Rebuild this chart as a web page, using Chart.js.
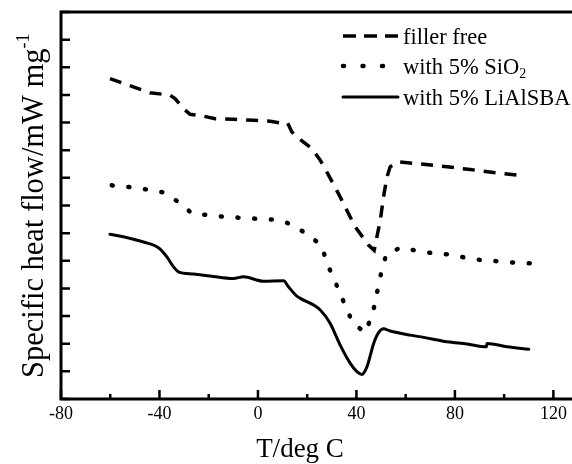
<!DOCTYPE html>
<html><head><meta charset="utf-8">
<style>
html,body{margin:0;padding:0;background:#fff;overflow:hidden;width:572px;height:464px}
canvas{display:block}
</style>
<script src="https://cdn.jsdelivr.net/npm/chart.js@4.4.1/dist/chart.umd.min.js"></script>
</head><body>
<canvas id="c" width="578" height="464" style="width:578px;height:464px"></canvas>
<script>
// ---- data ----
const fillerX = [-60.1,-52.6,-43.8,-35.7,-33.7,-30.3,-27.6,-23.5,-17.4,-10.0,-1.8,5.0,9.0,12.0,13.8,15.8,21.9,25.3,28.0,32.7,36.1,39.5,44.9,47.2,49.7,51.0,52.4,53.7,57.1,67.3,76.8,86.3,95.7,105.2];
const fillerY = [11.59,11.35,11.08,10.99,10.87,10.51,10.30,10.26,10.14,10.12,10.08,10.05,9.99,9.99,9.66,9.48,9.06,8.64,8.21,7.43,6.83,6.23,5.57,5.38,6.47,7.31,8.03,8.40,8.58,8.49,8.40,8.30,8.19,8.10];

const sio2X = [-59.4,-52.6,-45.9,-38.8,-32.3,-26.5,-23.2,-16.3,-9.6,-2.8,4.0,10.1,13.4,19.2,25.7,28.4,31.8,35.2,38.6,43.6,46.7,48.3,50.0,52.1,58.1,64.6,71.3,77.2,83.9,91.0,97.8,104.8,112.0,115.4];
const sio2Y = [7.73,7.67,7.59,7.48,7.13,6.69,6.68,6.61,6.57,6.53,6.51,6.44,6.31,6.01,5.57,4.84,4.15,3.43,2.74,2.40,3.12,3.82,4.54,5.24,5.48,5.36,5.27,5.23,5.12,5.02,4.98,4.93,4.90,4.90];

const lialX = [-60.1,-52.0,-46.5,-40.4,-37.0,-34.3,-32.3,-26.2,-19.4,-10.0,-5.9,2.2,10.4,12.4,15.8,17.2,25.3,29.3,33.4,37.5,40.2,42.2,44.3,47.0,49.0,51.0,53.7,61.9,67.3,76.8,84.9,92.8,93.0,101.2,110.0];
const lialY = [5.96,5.81,5.68,5.47,5.14,4.78,4.60,4.52,4.45,4.36,4.42,4.26,4.28,4.06,3.72,3.64,3.22,2.74,1.95,1.29,0.99,0.89,1.17,2.01,2.40,2.54,2.46,2.31,2.23,2.07,1.99,1.89,2.01,1.89,1.80];

const seriesLabels = ['filler free', 'with 5% SiO\u2082', 'with 5% LiAlSBA'];
const xTickValues = [-80,-60,-40,-20,0,20,40,60,80,100,120];
const xMajorTicks = [-80,-40,0,40,80,120];
const xTickLabels = ['-80','-40','0','40','80','120'];
const yTickValues = [0,1,2,3,4,5,6,7,8,9,10,11,12,13,14];
const xAxisTitle = 'T/deg C';
const yAxisTitle = 'Specific heat flow/mW mg\u207B\u00B9';

const pts = (xs, ys) => xs.map((x, i) => ({x, y: ys[i]}));
const FONT = '"Liberation Serif", "Times New Roman", serif';

// rich text: subscript / superscript characters rendered with a smaller font
const SUB = {'\u2082':'2'};
const SUP = {'\u207B':'-','\u00B9':'1'};
function drawRich(ctx, text, x, y, size) {
  let cx = x;
  for (const ch of text) {
    if (SUB[ch]) {
      ctx.font = (size*0.62) + 'px ' + FONT;
      ctx.fillText(SUB[ch], cx, y + size*0.22);
      cx += ctx.measureText(SUB[ch]).width;
    } else if (SUP[ch]) {
      ctx.font = (size*0.6) + 'px ' + FONT;
      ctx.fillText(SUP[ch], cx, y - size*0.45);
      cx += ctx.measureText(SUP[ch]).width;
    } else {
      ctx.font = size + 'px ' + FONT;
      ctx.fillText(ch, cx, y);
      cx += ctx.measureText(ch).width;
    }
  }
  return cx - x;
}

const legendDash = [[13, 8], [1, 18.5], []];

const decor = {
  id: 'decor',
  afterDraw(chart) {
    const {ctx, chartArea: a, scales: {x, y}} = chart;
    ctx.save();
    ctx.strokeStyle = '#000';
    ctx.fillStyle = '#000';
    // frame
    ctx.lineWidth = 3;
    ctx.setLineDash([]);
    ctx.beginPath();
    ctx.moveTo(a.right + 2, a.top);
    ctx.lineTo(a.left, a.top);
    ctx.lineTo(a.left, a.bottom);
    ctx.lineTo(a.right + 2, a.bottom);
    ctx.stroke();
    // inward ticks
    ctx.lineWidth = 2.5;
    ctx.beginPath();
    y.ticks.forEach(t => {
      const py = y.getPixelForValue(t.value);
      ctx.moveTo(a.left, py); ctx.lineTo(a.left + 9, py);
    });
    x.ticks.forEach(t => {
      const px = x.getPixelForValue(t.value);
      const len = xMajorTicks.includes(t.value) ? 9 : 5;
      ctx.moveTo(px, a.bottom); ctx.lineTo(px, a.bottom - len);
    });
    ctx.stroke();
    // legend
    const rows = [36, 66, 97];
    chart.data.datasets.forEach((ds, i) => {
      const ly = rows[i];
      ctx.lineWidth = ds.borderWidth;
      ctx.lineCap = ds.borderCapStyle || 'butt';
      ctx.setLineDash(legendDash[i]);
      ctx.beginPath();
      ctx.moveTo(343, ly); ctx.lineTo(398, ly);
      ctx.stroke();
      ctx.setLineDash([]);
      ctx.lineCap = 'butt';
      ctx.textBaseline = 'alphabetic';
      ctx.textAlign = 'left';
      drawRich(ctx, ds.label, 403, ly + 7.5, 22.5);
    });
    // axis titles
    ctx.textAlign = 'left';
    ctx.textBaseline = 'alphabetic';
    ctx.font = '27px ' + FONT;
    const w = ctx.measureText(xAxisTitle).width;
    ctx.fillText(xAxisTitle, 300 - w/2, 457);
    ctx.save();
    ctx.translate(43, 378);
    ctx.rotate(-Math.PI/2);
    drawRich(ctx, yAxisTitle, 0, 0, 30.5);
    ctx.restore();
    ctx.restore();
  }
};

new Chart(document.getElementById('c'), {
  type: 'line',
  data: {
    datasets: [
      {label: seriesLabels[0], data: pts(fillerX, fillerY), borderColor: '#000', borderWidth: 3.5, borderDash: [12, 9], borderCapStyle: 'butt', tension: 0},
      {label: seriesLabels[1], data: pts(sio2X, sio2Y), borderColor: '#000', borderWidth: 4.5, borderDash: [1, 15.7], borderCapStyle: 'round', tension: 0},
      {label: seriesLabels[2], data: pts(lialX, lialY), borderColor: '#000', borderWidth: 3, borderCapStyle: 'round', cubicInterpolationMode: 'monotone'}
    ]
  },
  options: {
    responsive: false,
    animation: false,
    devicePixelRatio: 1,
    layout: {padding: {top: 12, right: 0, left: 0, bottom: 0}},
    elements: {point: {radius: 0}, line: {tension: 0, fill: false}},
    plugins: {legend: {display: false}, tooltip: {enabled: false}},
    scales: {
      x: {
        type: 'linear', min: -80, max: 130,
        afterBuildTicks: s => { s.ticks = xTickValues.map(v => ({value: v})); },
        afterFit: s => { s.height = 65; },
        grid: {display: false, drawTicks: false},
        border: {display: false},
        ticks: {
          autoSkip: false, maxRotation: 0, padding: 4, color: '#000',
          font: {family: FONT, size: 18},
          callback: v => { const k = xMajorTicks.indexOf(v); return k >= 0 ? xTickLabels[k] : ''; }
        }
      },
      y: {
        type: 'linear', min: 0, max: 14,
        afterBuildTicks: s => { s.ticks = yTickValues.map(v => ({value: v})); },
        afterFit: s => { s.width = 61; },
        grid: {display: false, drawTicks: false},
        border: {display: false},
        ticks: {display: false}
      }
    }
  },
  plugins: [decor]
});
</script>
</body></html>
